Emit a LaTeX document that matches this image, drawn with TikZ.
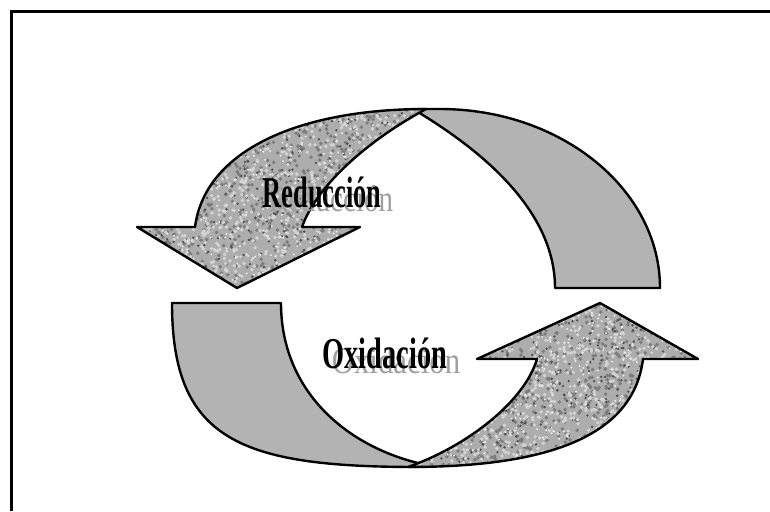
\documentclass[tikz,border=0pt]{standalone}
\usepackage{fontspec}
\setmainfont{Liberation Serif}
\definecolor{bandgray}{HTML}{B3B3B3}
\definecolor{texbase}{HTML}{ADADAD}
\definecolor{texdark}{HTML}{7C7C7C}
\definecolor{texdarker}{HTML}{4E4E4E}
\definecolor{texlight}{HTML}{D4D4D4}
\definecolor{texlighter}{HTML}{ECECEC}
\definecolor{shadowgray}{HTML}{A0A0A0}
\tikzset{
  outline/.style={draw=black, line width=2.4pt, line join=round},
  band/.style={outline, fill=bandgray},
  lbl/.style={anchor=base, inner sep=0pt, font=\bfseries\fontsize{44}{44}\selectfont},
  lblshadow/.style={anchor=base, inner sep=0pt, text=shadowgray, font=\fontsize{44}{44}\selectfont},
  frameline/.style={draw=black, line width=3pt},
}
\newcommand{\mySpeckle}[4]{%
  \foreach \k in {1,...,1000}{\fill[texdark] ({#1+#3*rnd},{#2+#4*rnd}) circle (1.9);}
  \foreach \k in {1,...,450}{\fill[texdarker] ({#1+#3*rnd},{#2+#4*rnd}) circle (1.3);}
  \foreach \k in {1,...,900}{\fill[texlight] ({#1+#3*rnd},{#2+#4*rnd}) circle (1.9);}
  \foreach \k in {1,...,450}{\fill[texlighter] ({#1+#3*rnd},{#2+#4*rnd}) circle (1.1);}
}
\def\topArrowPath{(195,227) .. controls (205,150) and (300,109) .. (426,109) .. controls (360,145) and (315,190) .. (302,227) -- (360,227) -- (237,288) -- (137,227) -- cycle}
\def\botArrowPath{(643,359) .. controls (633,440) and (540,467) .. (408,467) .. controls (470,445) and (525,400) .. (537,359) -- (477,359) -- (600,303) -- (698,359) -- cycle}
\begin{document}
\begin{tikzpicture}[x=1pt,y=-1pt]
\pgfmathsetseed{42}
\useasboundingbox (0,0) rectangle (770,511);
\fill[white] (0,0) rectangle (770,511);
% frame (only left and top edges visible)
\draw[frameline] (11.5,511) -- (11.5,11.5) -- (770,11.5);

% ---- upper shape (Reduccion) ----
\draw[band] (555,288) .. controls (555,200) and (460,138) .. (418,112) -- (418,109) -- (440,109) .. controls (561.5,109) and (660,189.7) .. (660,288) -- cycle;
\fill[texbase] \topArrowPath;
\begin{scope}
  \clip \topArrowPath;
  \mySpeckle{133}{103}{299}{189}
\end{scope}
\draw[outline] \topArrowPath;

% ---- lower shape (Oxidacion) ----
\draw[band] (172,303) -- (281,303) .. controls (281,390) and (345,445) .. (418,463) -- (418,467) .. controls (240,467) and (172,440) .. (172,303) -- cycle;
\fill[texbase] \botArrowPath;
\begin{scope}
  \clip \botArrowPath;
  \mySpeckle{403}{298}{299}{174}
\end{scope}
\draw[outline] \botArrowPath;

% ---- labels ----
\node[lblshadow] (redsh) at (331,211) {\scalebox{0.66}[0.85]{Reducción}};
\node[lbl] (red) at (322,207) {\scalebox{0.6}[1]{Reducción}};
\node[lblshadow] (oxsh) at (396,373) {\scalebox{0.7}[0.85]{Oxidación}};
\node[lbl] (ox) at (385,368) {\scalebox{0.645}[1]{Oxidación}};
\end{tikzpicture}
\end{document}
